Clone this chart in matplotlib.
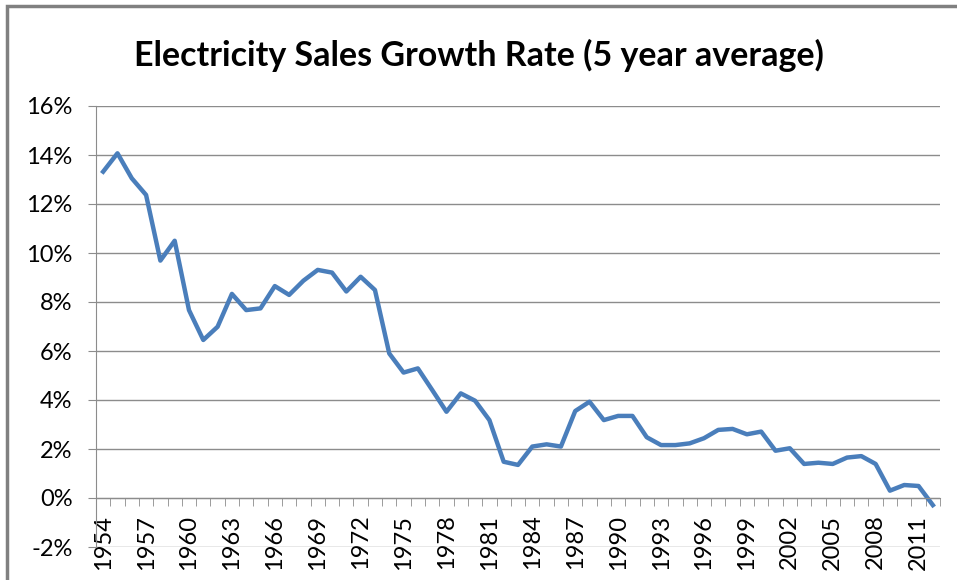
import matplotlib.pyplot as plt
from matplotlib.ticker import FixedLocator, FuncFormatter
from matplotlib.patches import Rectangle

years = list(range(1954, 2013))
growth = [13.32, 14.07, 13.05, 12.37, 9.69, 10.50, 7.67, 6.45, 6.99, 8.33,
          7.67, 7.74, 8.65, 8.29, 8.87, 9.31, 9.20, 8.43, 9.03, 8.49,
          5.90, 5.12, 5.29, 4.41, 3.52, 4.27, 3.97, 3.18, 1.48, 1.35,
          2.10, 2.19, 2.10, 3.55, 3.93, 3.18, 3.35, 3.35, 2.48, 2.16,
          2.16, 2.23, 2.44, 2.78, 2.82, 2.60, 2.71, 1.93, 2.03, 1.39,
          1.44, 1.39, 1.65, 1.71, 1.39, 0.30, 0.53, 0.49, -0.29]

plt.rcParams['font.family'] = ['Lato', 'DejaVu Sans']

fig = plt.figure(figsize=(9.57, 5.8), dpi=100)
ax = fig.add_axes([96 / 957, 1 - 547 / 580, 844 / 957, 441 / 580])

idx = list(range(len(years)))
ax.plot(idx, growth, color='#4A7EBB', linewidth=3.2, solid_joinstyle='round')

ax.set_xlim(-0.5, len(years) - 0.5)
ax.set_ylim(-2, 16)

grid_col = '#8C8C8C'
ax.set_yticks(range(-2, 17, 2))
ax.yaxis.set_major_formatter(FuncFormatter(lambda v, p: f'{v:.0f}%'))
ax.yaxis.grid(True, color=grid_col, linewidth=1.0)
ax.set_axisbelow(True)

ax.spines['top'].set_visible(False)
ax.spines['right'].set_visible(False)
ax.spines['left'].set_color(grid_col)
ax.spines['bottom'].set_color(grid_col)
ax.spines['bottom'].set_position(('data', 0))

# labels every 3 years, tick marks between categories
lab_pos = idx[::3]
ax.xaxis.set_major_locator(FixedLocator(lab_pos))
ax.set_xticklabels([str(years[i]) for i in lab_pos], rotation=90)
ax.xaxis.set_minor_locator(FixedLocator([i - 0.5 for i in range(len(years) + 1)]))
ax.tick_params(axis='x', which='major', length=0, pad=12, labelsize=17)
ax.tick_params(axis='x', which='minor', length=5.5, color=grid_col, direction='out')
ax.tick_params(axis='y', length=6, color=grid_col, pad=11, labelsize=17)
for t in ax.get_xticklabels():
    t.set_va('top')

fig.text(0.5, 1 - 55 / 580, 'Electricity Sales Growth Rate (5 year average)',
         ha='center', va='center', fontsize=24.5, fontweight='bold')

fig.patches.append(Rectangle((7 / 957, -0.1), 1.2, 1 - 6 / 580 + 0.1,
                             transform=fig.transFigure, fill=False,
                             edgecolor='#808080', linewidth=2.5))

fig.savefig('out.png', dpi=100)
